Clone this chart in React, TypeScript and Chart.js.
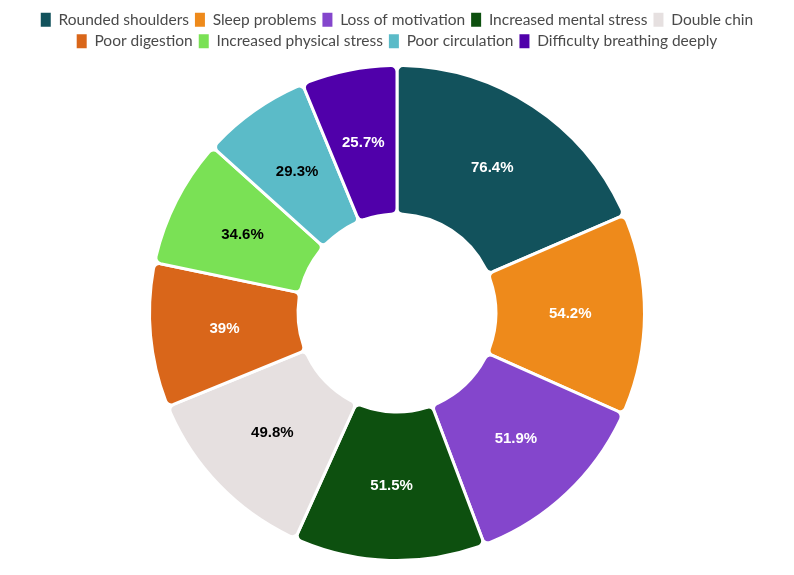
import React, { useEffect, useRef } from "react";
import { Chart, registerables } from "chart.js";

Chart.register(...registerables);

const categories = [
  "Rounded shoulders",
  "Sleep problems",
  "Loss of motivation",
  "Increased mental stress",
  "Double chin",
  "Poor digestion",
  "Increased physical stress",
  "Poor circulation",
  "Difficulty breathing deeply",
];
const values = [76.4, 54.2, 51.9, 51.5, 49.8, 39, 34.6, 29.3, 25.7];
const valueLabels = ["76.4%", "54.2%", "51.9%", "51.5%", "49.8%", "39%", "34.6%", "29.3%", "25.7%"];
const colors = [
  "#12525C",
  "#EE8A1B",
  "#8446CC",
  "#0D500F",
  "#E6E0E0",
  "#D9661A",
  "#7AE155",
  "#5BBBC8",
  "#5000AA",
];
const labelColors = ["#fff", "#fff", "#fff", "#fff", "#000", "#fff", "#000", "#000", "#fff"];

const sliceLabels = {
  id: "sliceLabels",
  afterDatasetsDraw(chart: any) {
    const ctx = chart.ctx;
    const meta = chart.getDatasetMeta(0);
    ctx.save();
    ctx.font = "bold 15px 'Liberation Sans', Arial, sans-serif";
    ctx.textAlign = "center";
    ctx.textBaseline = "middle";
    meta.data.forEach((arc: any, i: number) => {
      const p = arc.tooltipPosition();
      ctx.fillStyle = labelColors[i];
      ctx.fillText(valueLabels[i], p.x, p.y);
    });
    ctx.restore();
  },
};

const legendSpacing = {
  id: "legendSpacing",
  beforeInit(chart: any) {
    const legend = chart.legend;
    if (!legend) return;
    const orig = legend.fit;
    legend.fit = function () {
      orig.call(this);
      this.height += 5;
    };
  },
};

export default function App() {
  const ref = useRef<HTMLCanvasElement>(null);
  useEffect(() => {
    if (!ref.current) return;
    const chart = new Chart(ref.current, {
      type: "doughnut",
      data: {
        labels: categories,
        datasets: [
          {
            data: values,
            backgroundColor: colors,
            borderColor: "#ffffff",
            borderWidth: 3,
            borderRadius: 6,
            hoverOffset: 0,
          },
        ],
      },
      options: {
        responsive: false,
        animation: false,
        cutout: "40%",
        layout: { padding: { top: 6, bottom: 13, left: 0, right: 0 } },
        plugins: {
          tooltip: { enabled: false },
          legend: {
            position: "top",
            labels: {
              font: { family: "Lato, 'Open Sans', sans-serif", size: 15.5 },
              color: "#4a4a4a",
              boxWidth: 10,
              boxHeight: 14,
              padding: 6,
              useBorderRadius: true,
              borderRadius: 3,
              generateLabels(chart: any) {
                return categories.map((c, i) => ({
                  text: c,
                  fillStyle: colors[i],
                  strokeStyle: colors[i],
                  lineWidth: 0,
                  fontColor: "#4a4a4a",
                  hidden: false,
                  index: i,
                  datasetIndex: 0,
                }));
              },
            },
          },
        },
      },
      plugins: [legendSpacing, sliceLabels],
    });
    return () => chart.destroy();
  }, []);
  return (
    <div style={{ position: "absolute", left: 0, top: 0, width: 794, height: 575, background: "#fff" }}>
      <canvas ref={ref} width={794} height={575} style={{ width: 794, height: 575 }} />
    </div>
  );
}
